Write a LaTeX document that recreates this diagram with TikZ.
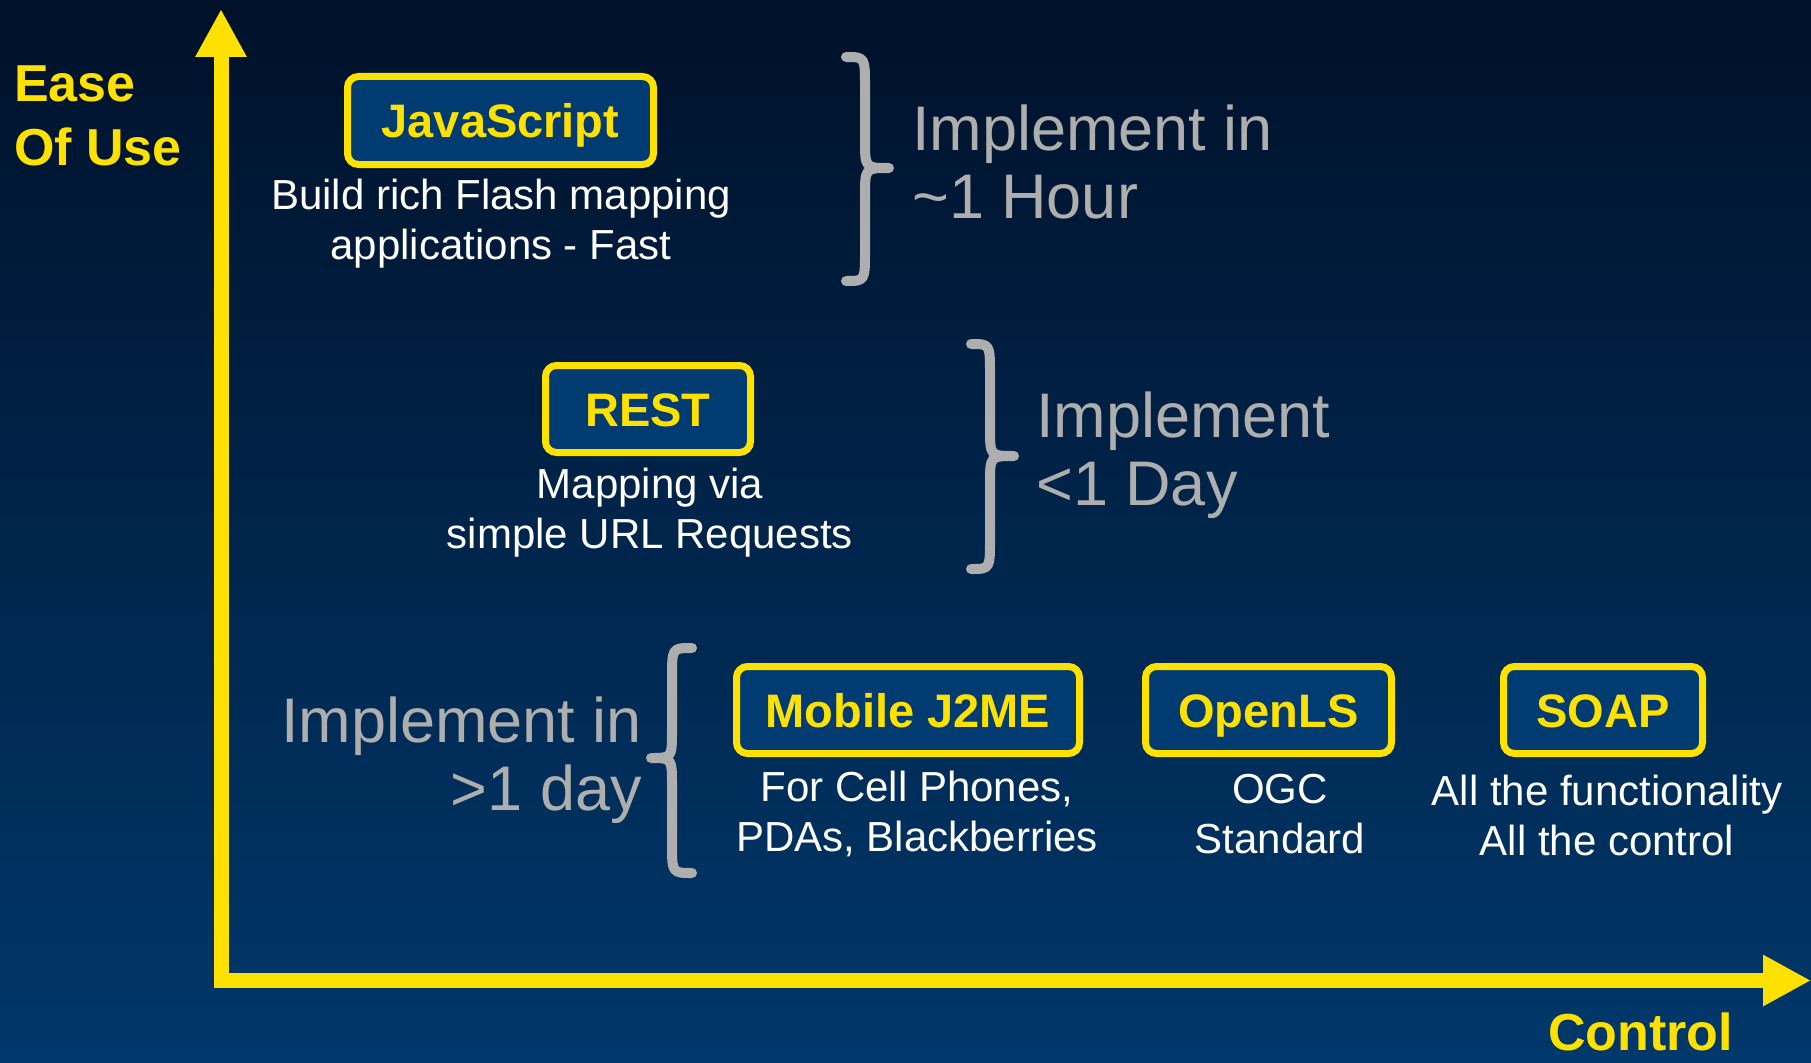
\documentclass[tikz,border=0pt]{standalone}
\usepackage{fontspec}
\setmainfont{Liberation Sans}
\usetikzlibrary{arrows.meta}
\definecolor{bgtop}{HTML}{00112A}
\definecolor{bgbot}{HTML}{00386B}
\definecolor{boxblue}{HTML}{003C72}
\definecolor{axisyellow}{HTML}{FFE100}
\definecolor{bracegray}{HTML}{AEAEAE}
\begin{document}
\begin{tikzpicture}[x=1pt,y=-1pt,
  tech/.style={draw=axisyellow, line width=7pt, fill=boxblue, rounded corners=11pt,
    inner sep=0pt, text=axisyellow, font=\fontsize{47}{56}\selectfont\bfseries,
    text height=34pt, text depth=0pt},
  desc/.style={inner sep=0pt, anchor=base, text=white, font=\fontsize{42}{50}\selectfont},
  impl/.style={inner sep=0pt, text=bracegray, font=\fontsize{63}{68.5}\selectfont},
  axislabel/.style={inner sep=0pt, text=axisyellow, font=\fontsize{52}{64}\selectfont\bfseries},
  axisline/.style={draw=axisyellow, line width=15pt, line cap=butt,
    -{Triangle[length=48pt,width=48pt]}},
  bracestyle/.style={draw=bracegray, line width=10pt, line cap=round, line join=round}
]
\useasboundingbox (0,0) rectangle (1811,1062);
\shade[top color=bgtop, bottom color=bgbot] (0,0) rectangle (1811,1062);

% axes
\coordinate (ybot) at (221,988);
\coordinate (ytop) at (221,9);
\coordinate (xleft) at (213.5,980.5);
\coordinate (xright) at (1811,980.5);
\draw[axisline] (ybot) -- (ytop);
\draw[axisline] (xleft) -- (xright);

\node[axislabel, anchor=base west] (ease) at (14,102)
  {\begin{tabular}[t]{@{}l@{}}Ease\\Of Use\end{tabular}};
\node[axislabel, anchor=base west] (control) at (1548,1050) {Control};

% technology boxes
\node[tech, minimum width=306pt, minimum height=88pt] (js) at (500.5,120.5) {JavaScript};
\node[tech, minimum width=205pt, minimum height=87pt] (rest) at (648,409) {REST};
\node[tech, minimum width=343pt, minimum height=87pt] (j2me) at (908,710) {Mobile J2ME};
\node[tech, minimum width=246pt, minimum height=87pt] (openls) at (1268.5,710) {OpenLS};
\node[tech, minimum width=199pt, minimum height=87pt] (soap) at (1603,710) {SOAP};

% descriptions
\node[desc] (jsdesc) at (501,209)
  {\begin{tabular}[t]{@{}c@{}}Build rich Flash mapping\\applications - Fast\end{tabular}};
\node[desc] (restdesc) at (650,498)
  {\begin{tabular}[t]{@{}c@{}}Mapping via\\simple URL Requests\end{tabular}};
\node[desc] (j2medesc) at (917,801)
  {\begin{tabular}[t]{@{}c@{}}For Cell Phones,\\PDAs, Blackberries\end{tabular}};
\node[desc] (openlsdesc) at (1280,803)
  {\begin{tabular}[t]{@{}c@{}}OGC\\Standard\end{tabular}};
\node[desc] (soapdesc) at (1607,805)
  {\begin{tabular}[t]{@{}c@{}}All the functionality\\All the control\end{tabular}};

% braces
\draw[bracestyle] (846,57) .. controls (865,57) .. (865,87) -- (865,140)
  .. controls (865,168) .. (889,168) .. controls (865,168) .. (865,196)
  -- (865,251) .. controls (865,281) .. (846,281);
\draw[bracestyle] (971,344) .. controls (990,344) .. (990,374) -- (990,428)
  .. controls (990,456) .. (1014,456) .. controls (990,456) .. (990,484)
  -- (990,539) .. controls (990,569) .. (971,569);
\draw[bracestyle] (692,648) .. controls (672,648) .. (672,678) -- (672,730)
  .. controls (672,758) .. (651,758) .. controls (672,758) .. (672,786)
  -- (672,843) .. controls (672,873) .. (692,873);

% time estimates
\node[impl, anchor=base west] (hour) at (912,150)
  {\begin{tabular}[t]{@{}l@{}}Implement in\\\textasciitilde1 Hour\end{tabular}};
\node[impl, anchor=base west] (day) at (1036,437)
  {\begin{tabular}[t]{@{}l@{}}Implement\\<1 Day\end{tabular}};
\node[impl, anchor=base east] (days) at (642,742)
  {\begin{tabular}[t]{@{}r@{}}Implement in\\>1 day\end{tabular}};
\end{tikzpicture}
\end{document}
